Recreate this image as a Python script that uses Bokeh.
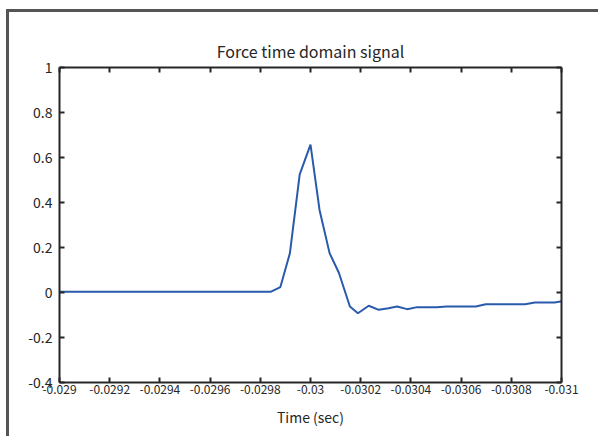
from bokeh.plotting import figure
from bokeh.models import Range1d, LinearAxis, FixedTicker
from bokeh.embed import file_html
from bokeh.resources import INLINE

# ---- data ----
time_sec = [-0.029000, -0.029841, -0.029880, -0.029918, -0.029957, -0.030000,
            -0.030036, -0.030076, -0.030113, -0.030157, -0.030189, -0.030232,
            -0.030272, -0.030311, -0.030345, -0.030385, -0.030425, -0.030464,
            -0.030503, -0.030542, -0.030581, -0.030620, -0.030659, -0.030698,
            -0.030737, -0.030776, -0.030816, -0.030855, -0.030894, -0.030933,
            -0.030972, -0.031011]
force = [0.003, 0.003, 0.024, 0.175, 0.525, 0.657,
         0.367, 0.175, 0.088, -0.062, -0.092, -0.059,
         -0.077, -0.070, -0.062, -0.074, -0.065, -0.065,
         -0.066, -0.062, -0.062, -0.062, -0.062, -0.052,
         -0.052, -0.052, -0.052, -0.052, -0.044, -0.044,
         -0.044, -0.037]

x_ticks = [-0.029, -0.0292, -0.0294, -0.0296, -0.0298, -0.030,
           -0.0302, -0.0304, -0.0306, -0.0308, -0.031]
x_tick_labels = ["-0.029", "-0.0292", "-0.0294", "-0.0296", "-0.0298", "-0.03",
                 "-0.0302", "-0.0304", "-0.0306", "-0.0308", "-0.031"]
y_ticks = [-0.4, -0.2, 0.0, 0.2, 0.4, 0.6, 0.8, 1.0]
y_tick_labels = ["-0.4", "-0.2", "0", "0.2", "0.4", "0.6", "0.8", "1"]

title_text = "Force time domain signal"
x_label = "Time (sec)"

FONT = "Noto Sans CJK JP"
TXT = "#262626"
AX = "#262626"

p = figure(width=592, height=427, output_backend="svg", toolbar_location=None,
           x_range=Range1d(-0.029, -0.031), y_range=Range1d(-0.4, 1.0),
           x_axis_label=x_label,
           min_border_left=50, min_border_right=40,
           min_border_top=55, min_border_bottom=57)
p.margin = (9, 0, 0, 6)
p.styles = {"border-left": "3px solid #555555", "border-top": "3px solid #555555"}

p.title.text = title_text
p.title.align = "center"
p.title.text_font = FONT
p.title.text_font_size = "16px"
p.title.text_font_style = "normal"
p.title.text_color = TXT

p.xgrid.visible = False
p.ygrid.visible = False
p.outline_line_color = None
p.background_fill_color = "white"
p.border_fill_color = "white"

xtick_map = {t: l for t, l in zip(x_ticks, x_tick_labels)}
ytick_map = {t: l for t, l in zip(y_ticks, y_tick_labels)}

xa = p.xaxis[0]
xa.ticker = FixedTicker(ticks=x_ticks)
xa.major_label_overrides = xtick_map
xa.major_label_text_font = FONT
xa.major_label_text_font_size = "12px"
xa.major_label_text_color = TXT
xa.major_label_standoff = 2
xa.axis_label_text_font = FONT
xa.axis_label_text_font_size = "14px"
xa.axis_label_text_font_style = "normal"
xa.axis_label_text_color = TXT
xa.axis_label_standoff = 10

ya = p.yaxis[0]
ya.ticker = FixedTicker(ticks=y_ticks)
ya.major_label_overrides = ytick_map
ya.major_label_text_font = FONT
ya.major_label_text_font_size = "14px"
ya.major_label_text_color = TXT
ya.major_label_standoff = 7

for ax in (xa, ya):
    ax.axis_line_color = AX
    ax.axis_line_width = 2
    ax.major_tick_line_color = AX
    ax.major_tick_line_width = 2
    ax.major_tick_in = 5
    ax.major_tick_out = 0
    ax.minor_tick_line_color = None

top = LinearAxis(ticker=FixedTicker(ticks=x_ticks), major_label_text_color=None,
                 major_label_text_font_size="1px", major_label_standoff=4)
right = LinearAxis(ticker=FixedTicker(ticks=y_ticks),
                   major_label_text_color=None, major_label_text_font_size="1px",
                   major_label_standoff=0)
for ax in (top, right):
    ax.axis_line_color = AX
    ax.axis_line_width = 2
    ax.major_tick_line_color = AX
    ax.major_tick_line_width = 2
    ax.major_tick_in = 5
    ax.major_tick_out = 0
    ax.minor_tick_line_color = None
p.add_layout(top, "above")
p.add_layout(right, "right")

p.line(time_sec, force, line_color="#2a5aab", line_width=2)

open("out.html", "w").write(file_html(p, INLINE))
